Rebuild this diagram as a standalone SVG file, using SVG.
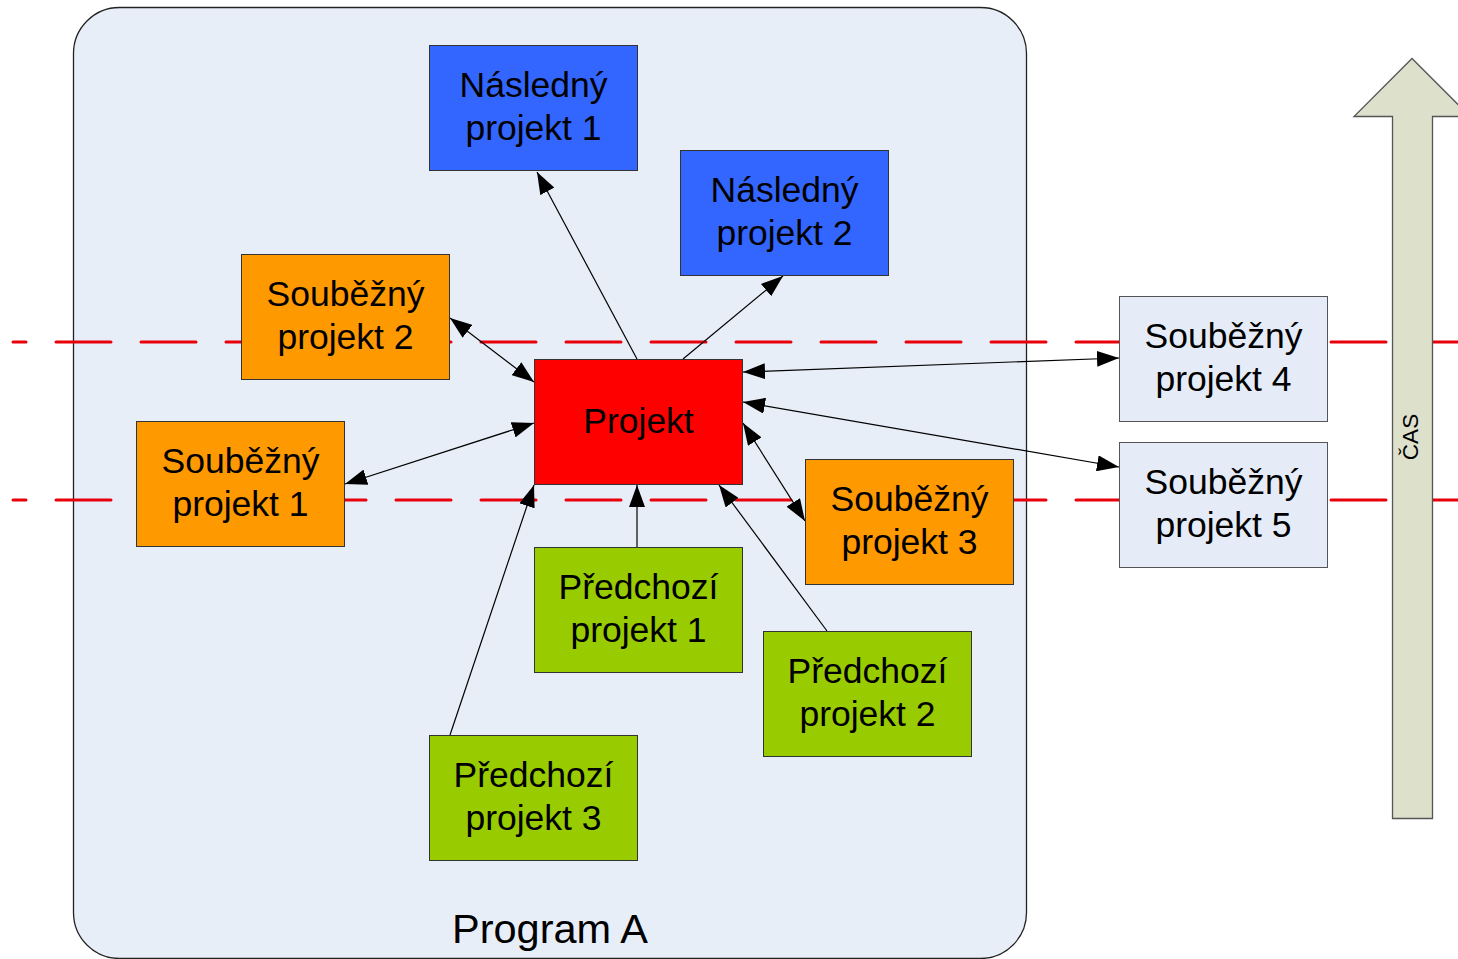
<svg xmlns="http://www.w3.org/2000/svg" width="1458" height="959" viewBox="0 0 1458 959">
  <defs>
    <style>
      .lbl { font-family: "Liberation Sans", Arial, sans-serif; font-size: 35.5px; fill: #000; text-anchor: middle; }
      .box { stroke: #333; stroke-width: 1; }
      .blue { fill: #3366ff; }
      .orange { fill: #ff9900; }
      .green { fill: #99cc00; }
      .red { fill: #ff0000; }
      .pale { fill: #e6ecf7; stroke: #555; stroke-width: 1; }
      .conn { stroke: #000; stroke-width: 1.2; fill: none; }
      .time { stroke: #e8000b; stroke-width: 3; stroke-dasharray: 55 30; stroke-dashoffset: 42; stroke-linecap: round; }
    </style>
    <marker id="head" viewBox="0 0 22 16" markerWidth="22" markerHeight="16" refX="22" refY="8" orient="auto-start-reverse" markerUnits="userSpaceOnUse">
      <path d="M0,0 L22,8 L0,16 z" fill="#000"/>
    </marker>
  </defs>

  <!-- program container -->
  <rect id="program" x="73.5" y="7.5" width="953" height="951" rx="46" ry="46" fill="#e8eef8" stroke="#222" stroke-width="1.3"/>
  <text x="550" y="943" font-family="Liberation Sans, Arial, sans-serif" font-size="41.5" text-anchor="middle">Program A</text>

  <!-- time boundaries -->
  <g id="timelines">
    <line class="time" x1="13" y1="342" x2="1460" y2="342"/>
    <line class="time" x1="13" y1="500" x2="1460" y2="500"/>
  </g>

  <!-- time arrow -->
  <g id="cas">
    <path d="M1392.5,818.5 V116.5 H1354 L1412,58.5 L1470,116.5 H1432.5 V818.5 Z" fill="#dde1cc" stroke="#555" stroke-width="1.3"/>
    <text transform="translate(1418,437) rotate(-90)" font-family="Liberation Sans, Arial, sans-serif" font-size="22.5" text-anchor="middle">ČAS</text>
  </g>

  <!-- connectors -->
  <g id="connectors">
    <line class="conn" x1="637" y1="359" x2="537" y2="172" marker-end="url(#head)"/>
    <line class="conn" x1="683" y1="359" x2="783" y2="276" marker-end="url(#head)"/>
    <line class="conn" x1="450" y1="318" x2="534" y2="382" marker-start="url(#head)" marker-end="url(#head)"/>
    <line class="conn" x1="345" y1="484" x2="534" y2="423" marker-start="url(#head)" marker-end="url(#head)"/>
    <line class="conn" x1="743" y1="372" x2="1119" y2="358" marker-start="url(#head)" marker-end="url(#head)"/>
    <line class="conn" x1="743" y1="402" x2="1119" y2="467" marker-start="url(#head)" marker-end="url(#head)"/>
    <line class="conn" x1="743" y1="423" x2="805" y2="521" marker-start="url(#head)" marker-end="url(#head)"/>
    <line class="conn" x1="637" y1="547" x2="637" y2="485" stroke="#666" marker-end="url(#head)"/>
    <line class="conn" x1="827" y1="631" x2="719" y2="485" marker-end="url(#head)"/>
    <line class="conn" x1="450" y1="735" x2="534" y2="485" marker-end="url(#head)"/>
  </g>

  <!-- nodes -->
  <g id="nasledny1">
    <rect class="box blue" x="429.5" y="45.5" width="208" height="125"/>
    <text class="lbl" x="533.5" y="97">Následný</text>
    <text class="lbl" x="533.5" y="140">projekt 1</text>
  </g>
  <g id="nasledny2">
    <rect class="box blue" x="680.5" y="150.5" width="208" height="125"/>
    <text class="lbl" x="784.5" y="202">Následný</text>
    <text class="lbl" x="784.5" y="245">projekt 2</text>
  </g>
  <g id="soubezny2">
    <rect class="box orange" x="241.5" y="254.5" width="208" height="125"/>
    <text class="lbl" x="345.5" y="306">Souběžný</text>
    <text class="lbl" x="345.5" y="349">projekt 2</text>
  </g>
  <g id="projekt">
    <rect class="box red" x="534.5" y="359.5" width="208" height="125"/>
    <text class="lbl" x="638.5" y="433">Projekt</text>
  </g>
  <g id="soubezny1">
    <rect class="box orange" x="136.5" y="421.5" width="208" height="125"/>
    <text class="lbl" x="240.5" y="473">Souběžný</text>
    <text class="lbl" x="240.5" y="516">projekt 1</text>
  </g>
  <g id="soubezny3">
    <rect class="box orange" x="805.5" y="459.5" width="208" height="125"/>
    <text class="lbl" x="909.5" y="511">Souběžný</text>
    <text class="lbl" x="909.5" y="554">projekt 3</text>
  </g>
  <g id="predchozi1">
    <rect class="box green" x="534.5" y="547.5" width="208" height="125"/>
    <text class="lbl" x="638.5" y="599">Předchozí</text>
    <text class="lbl" x="638.5" y="642">projekt 1</text>
  </g>
  <g id="predchozi2">
    <rect class="box green" x="763.5" y="631.5" width="208" height="125"/>
    <text class="lbl" x="867.5" y="683">Předchozí</text>
    <text class="lbl" x="867.5" y="726">projekt 2</text>
  </g>
  <g id="predchozi3">
    <rect class="box green" x="429.5" y="735.5" width="208" height="125"/>
    <text class="lbl" x="533.5" y="787">Předchozí</text>
    <text class="lbl" x="533.5" y="830">projekt 3</text>
  </g>
  <g id="soubezny4">
    <rect class="pale" x="1119.5" y="296.5" width="208" height="125"/>
    <text class="lbl" x="1223.5" y="348">Souběžný</text>
    <text class="lbl" x="1223.5" y="391">projekt 4</text>
  </g>
  <g id="soubezny5">
    <rect class="pale" x="1119.5" y="442.5" width="208" height="125"/>
    <text class="lbl" x="1223.5" y="494">Souběžný</text>
    <text class="lbl" x="1223.5" y="537">projekt 5</text>
  </g>
</svg>
